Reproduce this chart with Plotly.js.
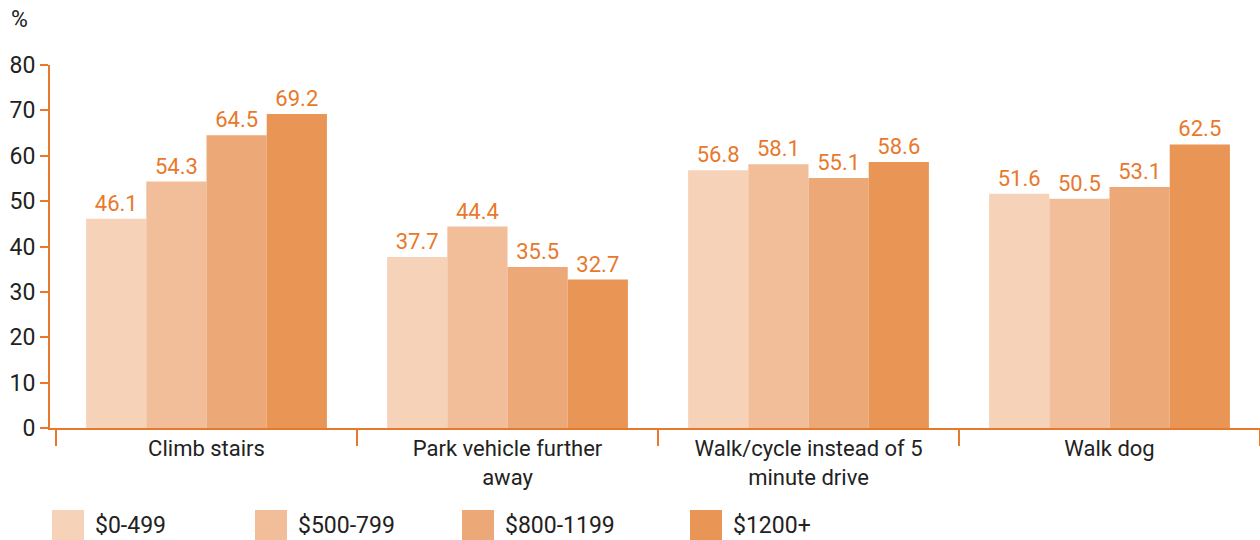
<!DOCTYPE html>
<html>
<head>
<meta charset="utf-8">
<script src="https://cdn.plot.ly/plotly-3.0.1.min.js"></script>
<style>
html,body{margin:0;padding:0;background:#fff;}
#chart{width:1260px;height:540px;}
</style>
</head>
<body>
<div id="chart"></div>
<script>
const categories = ["Climb stairs", "Park vehicle further<br>away", "Walk/cycle instead of 5<br>minute drive", "Walk dog"];
const seriesNames = ["$0-499", "$500-799", "$800-1199", "$1200+"];
const values_0_499 = [46.1, 37.7, 56.8, 51.6];
const values_500_799 = [54.3, 44.4, 58.1, 50.5];
const values_800_1199 = [64.5, 35.5, 55.1, 53.1];
const values_1200_plus = [69.2, 32.7, 58.6, 62.5];
const yTicks = [0, 10, 20, 30, 40, 50, 60, 70, 80];

const seriesValues = [values_0_499, values_500_799, values_800_1199, values_1200_plus];
const colors = ["#F6D3B8", "#F2BE99", "#ECA877", "#E89555"];
const axisColor = "#E8782A";
const labelColor = "#E8792C";
const font = "Roboto, Liberation Sans, Arial, sans-serif";

const traces = seriesNames.map((name, i) => ({
  type: "bar",
  name: name,
  x: categories,
  y: seriesValues[i],
  marker: {color: colors[i], line: {width: 0}},
  text: seriesValues[i].map(v => v.toFixed(1)),
  textposition: "outside",
  textfont: {family: font, size: 22, color: labelColor},
  cliponaxis: false,
  showlegend: false,
  hoverinfo: "x+y+name"
}));

const W = 1210, H = 363, L = 50, T = 65;
const legendX = [52, 255, 462, 690];
const shapes = [];
const annotations = [];
seriesNames.forEach((name, i) => {
  shapes.push({type: "rect", xref: "paper", yref: "paper",
    x0: (legendX[i] - L) / W, x1: (legendX[i] + 32 - L) / W,
    y0: -(545 - (T + H)) / H, y1: -(510 - (T + H)) / H,
    fillcolor: colors[i], line: {width: 0}, layer: "above"});
  annotations.push({xref: "paper", yref: "paper",
    x: (legendX[i] + 41 - L) / W, y: -(525 - (T + H)) / H,
    xanchor: "left", yanchor: "middle", showarrow: false,
    text: name, font: {family: font, size: 23, color: "#222"}});
});
annotations.push({xref: "paper", yref: "paper", x: (19 - L) / W, y: ((T + H) - 20) / H,
  xanchor: "center", yanchor: "middle", showarrow: false,
  text: "%", font: {family: font, size: 23, color: "#222"}});

const layout = {
  width: 1260, height: 540,
  margin: {l: L, r: 0, t: T, b: 540 - T - H},
  paper_bgcolor: "#fff", plot_bgcolor: "#fff",
  barmode: "group", bargap: 0.2, bargroupgap: 0,
  showlegend: false,
  font: {family: font, size: 22, color: "#222"},
  xaxis: {
    type: "category", range: [-0.52, 3.5],
    showline: true, linecolor: axisColor, linewidth: 2,
    ticks: "outside", tickson: "boundaries", ticklen: 16, tickwidth: 2, tickcolor: axisColor,
    tickfont: {family: font, size: 22, color: "#222"},
    showgrid: false, zeroline: false, automargin: false
  },
  yaxis: {
    range: [0, 80], tickvals: yTicks, ticktext: yTicks.map(String),
    showline: true, linecolor: axisColor, linewidth: 2,
    ticks: "outside", ticklen: 8, tickwidth: 2, tickcolor: axisColor,
    tickfont: {family: font, size: 23, color: "#222"},
    showgrid: false, zeroline: false, automargin: false
  },
  shapes: shapes,
  annotations: annotations
};

Plotly.newPlot("chart", traces, layout, {displayModeBar: false, staticPlot: true});
</script>
</body>
</html>
